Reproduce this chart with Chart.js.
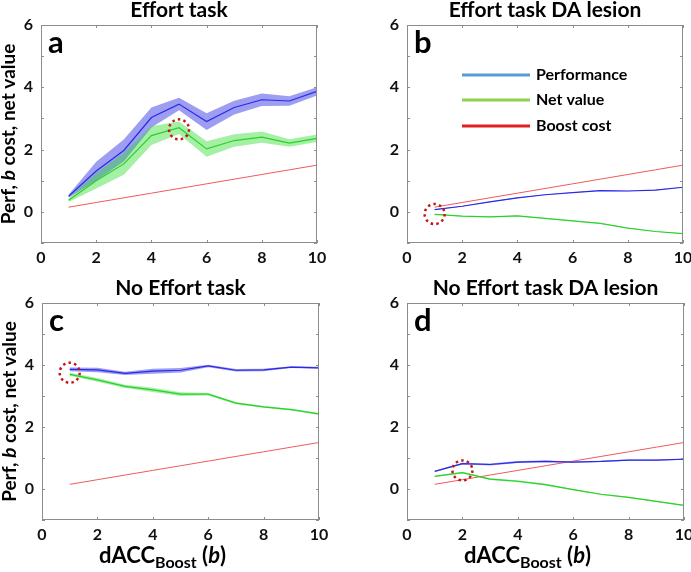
<!DOCTYPE html>
<html>
<head>
<meta charset="utf-8">
<script src="https://cdn.jsdelivr.net/npm/chart.js@4"></script>
<style>
  body { margin: 0; background: #fff; }
  #wrap { position: relative; width: 691px; height: 572px; }
  #wrap canvas { position: absolute; left: 0; top: 0; }
</style>
</head>
<body>
<div id="wrap">
  <canvas id="pa" width="691" height="572"></canvas>
  <canvas id="pb" width="691" height="572"></canvas>
  <canvas id="pc" width="691" height="572"></canvas>
  <canvas id="pd" width="691" height="572"></canvas>
</div>
<script>
// dACC boost levels (b)
const boostLevels = [1, 2, 3, 4, 5, 6, 7, 8, 9, 10];
const xTicks = [0, 2, 4, 6, 8, 10];
const yTicks = [0, 2, 4, 6];

// boost cost, same in every panel
const boostCost = [0.15, 0.3, 0.45, 0.6, 0.75, 0.9, 1.05, 1.2, 1.35, 1.5];

// a: Effort task
const perfA = [0.5, 1.31, 1.97, 3.03, 3.46, 2.9, 3.35, 3.6, 3.56, 3.87];
const perfErrA = [0.05, 0.3, 0.35, 0.32, 0.2, 0.27, 0.22, 0.2, 0.15, 0.13];
const netA = [0.37, 1.0, 1.54, 2.45, 2.7, 2.02, 2.29, 2.4, 2.21, 2.36];
const netErrA = [0.05, 0.25, 0.35, 0.3, 0.2, 0.25, 0.2, 0.18, 0.12, 0.12];

// b: Effort task DA lesion
const perfB = [0.07, 0.18, 0.32, 0.45, 0.55, 0.62, 0.68, 0.67, 0.7, 0.79];
const perfErrB = [0.01, 0.01, 0.01, 0.01, 0.01, 0.01, 0.01, 0.01, 0.01, 0.01];
const netB = [-0.08, -0.14, -0.16, -0.13, -0.21, -0.29, -0.37, -0.52, -0.63, -0.7];
const netErrB = [0.01, 0.01, 0.01, 0.01, 0.01, 0.01, 0.01, 0.01, 0.01, 0.01];

// c: No Effort task
const perfC = [3.86, 3.84, 3.73, 3.8, 3.83, 3.97, 3.83, 3.84, 3.93, 3.91];
const perfErrC = [0.06, 0.07, 0.05, 0.08, 0.07, 0.04, 0.04, 0.04, 0.03, 0.03];
const netC = [3.7, 3.52, 3.31, 3.2, 3.06, 3.06, 2.77, 2.65, 2.56, 2.42];
const netErrC = [0.05, 0.06, 0.05, 0.07, 0.06, 0.04, 0.04, 0.03, 0.03, 0.03];

// d: No Effort task DA lesion
const perfD = [0.57, 0.82, 0.79, 0.87, 0.89, 0.87, 0.89, 0.93, 0.93, 0.96];
const perfErrD = [0.02, 0.03, 0.03, 0.03, 0.03, 0.02, 0.02, 0.02, 0.02, 0.02];
const netD = [0.41, 0.53, 0.32, 0.25, 0.14, -0.02, -0.17, -0.27, -0.4, -0.53];
const netErrD = [0.02, 0.03, 0.03, 0.03, 0.03, 0.02, 0.02, 0.02, 0.02, 0.02];

const FONT = 'Lato, "Open Sans", sans-serif';
const blueLine = '#2a2ae6';
const blueBand = 'rgba(60,60,230,0.5)';
const greenLine = '#2ccf2c';
const greenBand = 'rgba(40,220,40,0.42)';
const redLine = '#f05a5a';

function pts(ys, errs, sign) {
  return boostLevels.map((b, i) => ({ x: b, y: errs ? ys[i] + sign * errs[i] : ys[i] }));
}

const panelPlugin = {
  id: 'panelDeco',
  afterDraw(chart) {
    const o = chart.options.plugins.panelDeco;
    const ctx = chart.ctx;
    const a = chart.chartArea;
    const xs = chart.scales.x, ys = chart.scales.y;
    ctx.save();
    // box and inward ticks
    ctx.strokeStyle = '#8c8c8c';
    ctx.lineWidth = 1;
    ctx.strokeRect(a.left + 0.5, a.top + 0.5, a.right - a.left - 1, a.bottom - a.top - 1);
    for (let v = -1; v <= 6; v++) {
      const p = Math.round(ys.getPixelForValue(v)) + 0.5;
      ctx.beginPath();
      ctx.moveTo(a.left, p); ctx.lineTo(a.left + 3, p);
      ctx.moveTo(a.right, p); ctx.lineTo(a.right - 3, p);
      ctx.stroke();
    }
    xTicks.forEach(v => {
      const p = Math.round(xs.getPixelForValue(v)) + 0.5;
      ctx.beginPath();
      ctx.moveTo(p, a.bottom); ctx.lineTo(p, a.bottom - 3);
      ctx.moveTo(p, a.top); ctx.lineTo(p, a.top + 3);
      ctx.stroke();
    });
    // title
    ctx.fillStyle = '#000';
    ctx.font = 'bold 21px ' + FONT;
    ctx.textAlign = 'center';
    ctx.textBaseline = 'middle';
    ctx.fillText(o.title, (a.left + a.right) / 2, a.top - 15);
    // panel letter
    ctx.font = 'bold 31px ' + FONT;
    ctx.textAlign = 'left';
    ctx.textBaseline = 'alphabetic';
    ctx.fillText(o.letter, a.left + 7, a.top + 28);
    // y axis title
    if (o.yTitle) {
      ctx.save();
      ctx.translate(a.left - 32, (a.top + a.bottom) / 2);
      ctx.rotate(-Math.PI / 2);
      ctx.textBaseline = 'middle';
      const parts = [['bold ', 'Perf, '], ['italic bold ', 'b'], ['bold ', ' cost, net value']];
      let w = 0;
      parts.forEach(p => { ctx.font = p[0] + '19px ' + FONT; w += ctx.measureText(p[1]).width; });
      let x = -w / 2;
      ctx.textAlign = 'left';
      parts.forEach(p => { ctx.font = p[0] + '19px ' + FONT; ctx.fillText(p[1], x, 0); x += ctx.measureText(p[1]).width; });
      ctx.restore();
    }
    // x axis title
    if (o.xTitle) {
      const parts = [['bold 22px ', 'dACC', 0], ['bold 16px ', 'Boost', 5], ['bold 22px ', ' (', 0], ['italic bold 22px ', 'b', 0], ['bold 22px ', ')', 0]];
      let w = 0;
      parts.forEach(p => { ctx.font = p[0] + FONT; w += ctx.measureText(p[1]).width; });
      let x = (a.left + a.right) / 2 - 18 - w / 2;
      const base = a.bottom + 43;
      ctx.textAlign = 'left';
      parts.forEach(p => { ctx.font = p[0] + FONT; ctx.fillText(p[1], x, base + p[2]); x += ctx.measureText(p[1]).width; });
    }
    // dotted circle marking the chosen boost
    const cx = xs.getPixelForValue(o.mark[0]);
    const cy = ys.getPixelForValue(o.mark[1]);
    ctx.strokeStyle = '#c41818';
    ctx.lineWidth = 2.5;
    ctx.setLineDash([2.5, 3.2]);
    ctx.beginPath();
    ctx.arc(cx, cy, 10, 0, Math.PI * 2);
    ctx.stroke();
    ctx.setLineDash([]);
    // legend
    if (o.legend) {
      const items = [['Performance', '#5b9bd5', 75], ['Net value', '#8fd04f', 100], ['Boost cost', '#e0201e', 126]];
      ctx.lineWidth = 3;
      ctx.font = 'bold 16px ' + FONT;
      ctx.textBaseline = 'middle';
      items.forEach(it => {
        const yy = it[2];
        ctx.strokeStyle = it[1];
        ctx.beginPath();
        ctx.moveTo(a.left + 55, yy); ctx.lineTo(a.left + 123, yy);
        ctx.stroke();
        ctx.fillStyle = '#000';
        ctx.fillText(it[0], a.left + 129, yy);
      });
    }
    ctx.restore();
  }
};

function makePanel(id, box, perf, perfErr, net, netErr, deco) {
  const axisW = 40, axisH = 40;
  new Chart(document.getElementById(id), {
    type: 'line',
    data: {
      datasets: [
        { data: pts(perf, perfErr, 1), borderWidth: 0, pointRadius: 0, fill: false, order: 20 },
        { data: pts(perf, perfErr, -1), borderWidth: 0, pointRadius: 0, fill: '-1', backgroundColor: blueBand, order: 19 },
        { data: pts(net, netErr, 1), borderWidth: 0, pointRadius: 0, fill: false, order: 18 },
        { data: pts(net, netErr, -1), borderWidth: 0, pointRadius: 0, fill: '-1', backgroundColor: greenBand, order: 17 },
        { label: 'Boost cost', data: pts(boostCost), borderColor: redLine, borderWidth: 1, pointRadius: 0, fill: false, order: 3 },
        { label: 'Net value', data: pts(net), borderColor: greenLine, borderWidth: 1.2, pointRadius: 0, fill: false, order: 2 },
        { label: 'Performance', data: pts(perf), borderColor: blueLine, borderWidth: 1.2, pointRadius: 0, fill: false, order: 1 }
      ]
    },
    options: {
      responsive: false,
      animation: false,
      events: [],
      layout: {
        padding: { left: box.left - axisW, top: box.top, right: 691 - box.right, bottom: 572 - box.bottom - axisH }
      },
      plugins: { legend: { display: false }, tooltip: { enabled: false }, panelDeco: deco },
      scales: {
        x: {
          type: 'linear', min: 0, max: 10,
          grid: { display: false, drawTicks: false, tickLength: 0 }, border: { display: false },
          afterBuildTicks: s => { s.ticks = xTicks.map(v => ({ value: v })); },
          afterFit: s => { s.height = axisH; s.paddingLeft = 0; s.paddingRight = 0; },
          ticks: { padding: 5, color: '#111', font: { family: FONT, size: 16, weight: 'bold' }, maxRotation: 0, autoSkip: false }
        },
        y: {
          min: -1, max: 6,
          grid: { display: false, drawTicks: false, tickLength: 0 }, border: { display: false },
          afterBuildTicks: s => { s.ticks = yTicks.map(v => ({ value: v })); },
          afterFit: s => { s.width = axisW; s.paddingTop = 0; s.paddingBottom = 0; },
          ticks: { padding: 8, color: '#111', font: { family: FONT, size: 16, weight: 'bold' }, autoSkip: false }
        }
      }
    },
    plugins: [panelPlugin]
  });
}

makePanel('pa', { left: 41, top: 25, right: 317, bottom: 243 }, perfA, perfErrA, netA, netErrA,
  { title: 'Effort task', letter: 'a', yTitle: true, xTitle: false, mark: [5, 2.65], legend: false });
makePanel('pb', { left: 407, top: 25, right: 683, bottom: 243 }, perfB, perfErrB, netB, netErrB,
  { title: 'Effort task DA lesion', letter: 'b', yTitle: false, xTitle: false, mark: [1, -0.07], legend: true });
makePanel('pc', { left: 42, top: 303, right: 319, bottom: 520 }, perfC, perfErrC, netC, netErrC,
  { title: 'No Effort task', letter: 'c', yTitle: true, xTitle: true, mark: [1, 3.75], legend: false });
makePanel('pd', { left: 407, top: 303, right: 684, bottom: 520 }, perfD, perfErrD, netD, netErrD,
  { title: 'No Effort task DA lesion', letter: 'd', yTitle: false, xTitle: true, mark: [2, 0.6], legend: false });
</script>
</body>
</html>
